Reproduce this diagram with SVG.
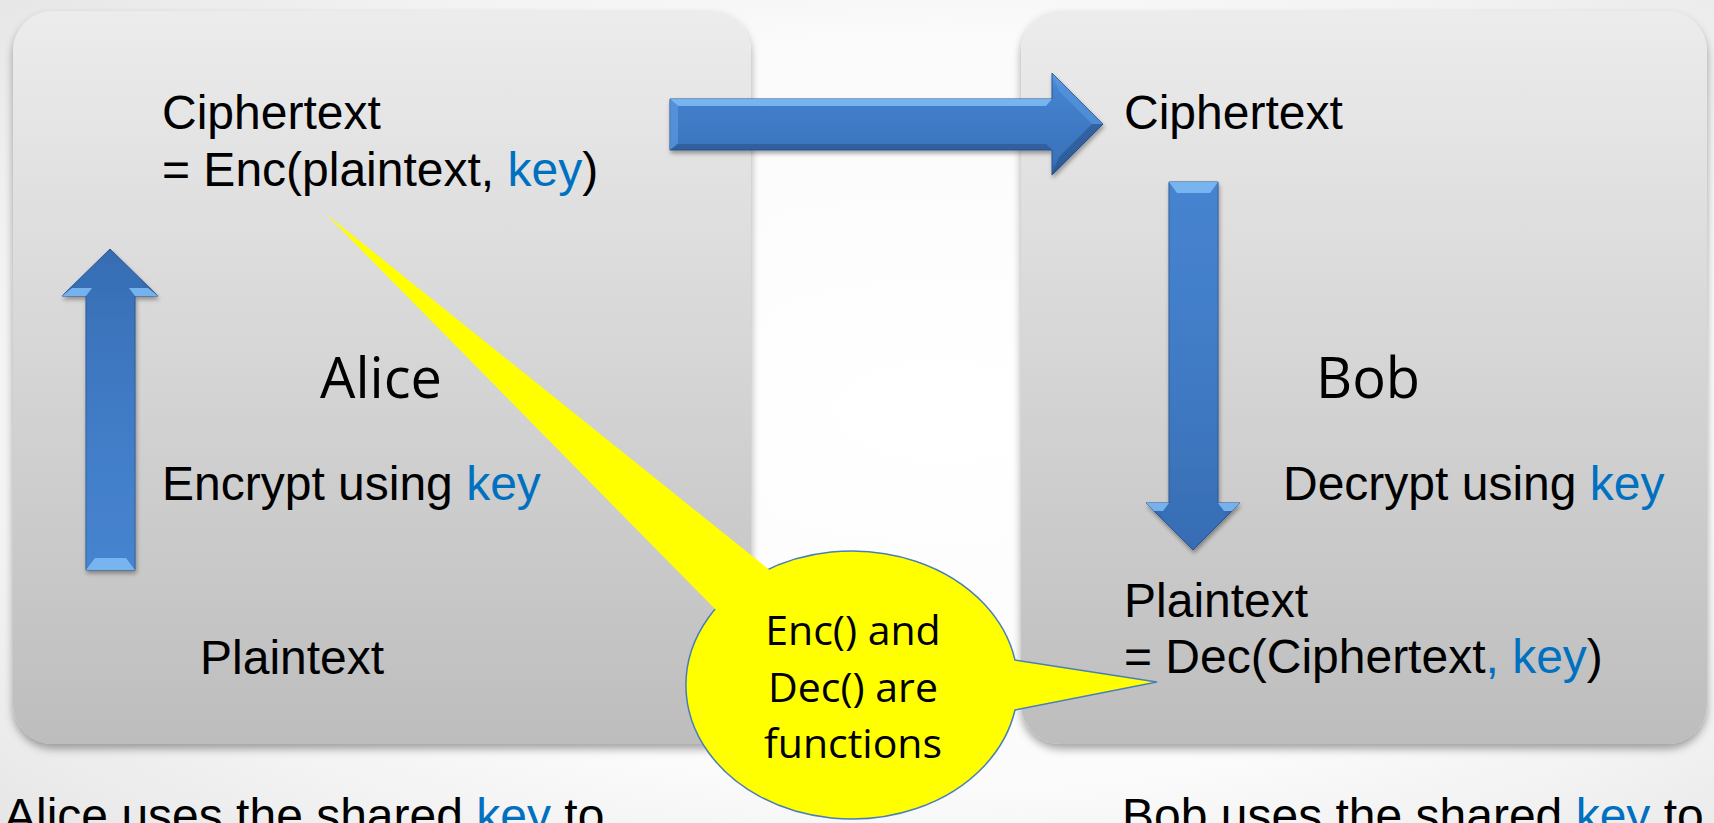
<svg xmlns="http://www.w3.org/2000/svg" width="1714" height="823" viewBox="0 0 1714 823">
  <defs>
    <radialGradient id="bg" cx="0.55" cy="0.5" r="0.75">
      <stop offset="0" stop-color="#ffffff"/>
      <stop offset="0.6" stop-color="#fbfbfb"/>
      <stop offset="1" stop-color="#e6e6e6"/>
    </radialGradient>
    <linearGradient id="panelFill" x1="0" y1="0" x2="0" y2="1">
      <stop offset="0" stop-color="#ececec"/>
      <stop offset="1" stop-color="#bdbdbd"/>
    </linearGradient>
    <linearGradient id="arrowV" x1="0" y1="0" x2="1" y2="0">
      <stop offset="0" stop-color="#2f64a8"/>
      <stop offset="0.2" stop-color="#3f7bc8"/>
      <stop offset="0.8" stop-color="#3f7bc8"/>
      <stop offset="1" stop-color="#2d5f9f"/>
    </linearGradient>
    <linearGradient id="arrowUpShade" x1="0" y1="0" x2="0" y2="1">
      <stop offset="0" stop-color="#2b5a99" stop-opacity="0.45"/>
      <stop offset="1" stop-color="#5a9be6" stop-opacity="0.25"/>
    </linearGradient>
    <linearGradient id="arrowDownShade" x1="0" y1="0" x2="0" y2="1">
      <stop offset="0" stop-color="#5a9be6" stop-opacity="0.25"/>
      <stop offset="1" stop-color="#2b5a99" stop-opacity="0.45"/>
    </linearGradient>
    <linearGradient id="arrowH" x1="0" y1="0" x2="0" y2="1">
      <stop offset="0" stop-color="#5c9be4"/>
      <stop offset="0.15" stop-color="#4483d0"/>
      <stop offset="0.85" stop-color="#3a72bb"/>
      <stop offset="1" stop-color="#2d5e9c"/>
    </linearGradient>
    <filter id="panelShadow" x="-5%" y="-5%" width="110%" height="112%">
      <feDropShadow dx="0" dy="5" stdDeviation="4" flood-color="#000" flood-opacity="0.35"/>
    </filter>
    <filter id="arrowShadow" x="-20%" y="-10%" width="140%" height="125%">
      <feDropShadow dx="1" dy="3" stdDeviation="2" flood-color="#000" flood-opacity="0.35"/>
    </filter>
    <style>
      .panel { fill: url(#panelFill); filter: url(#panelShadow); }
      .t { font-family: "Liberation Sans", Arial, sans-serif; font-size: 48px; fill: #000; }
      .name { font-family: "Open Sans", "Noto Sans", sans-serif; font-size: 56px; fill: #000; }
      .key { fill: #0070c0; }
      .arrow-edge { stroke: #2a5590; stroke-width: 1; stroke-linejoin: miter; }
      .bevel { fill: #7cbaf4; opacity: 0.9; }
      .bevel-dark { fill: #23497e; opacity: 0.5; }
      .bubble { fill: #ffff00; stroke: #4a7ebb; stroke-width: 1.5; }
      .btxt { font-family: "Open Sans", "Noto Sans", sans-serif; font-size: 41px; fill: #000; text-anchor: middle; }
    </style>
  </defs>

  <rect x="0" y="0" width="1714" height="823" fill="url(#bg)"/>

  <g id="alice-panel">
    <rect class="panel" x="13" y="11" width="738" height="733" rx="40" ry="40"/>
    <text class="t" x="162" y="129">Ciphertext</text>
    <text class="t" x="162" y="186">= Enc(plaintext, <tspan class="key">key</tspan>)</text>
    <text class="name" x="320" y="398">Alice</text>
    <text class="t" x="162" y="500">Encrypt using <tspan class="key">key</tspan></text>
    <text class="t" x="200" y="674">Plaintext</text>
  </g>

  <g id="bob-panel">
    <rect class="panel" x="1021" y="11" width="686" height="733" rx="40" ry="40"/>
    <text class="t" x="1124" y="129">Ciphertext</text>
    <text class="name" x="1316" y="398">Bob</text>
    <text class="t" x="1283" y="500">Decrypt using <tspan class="key">key</tspan></text>
    <text class="t" x="1124" y="617">Plaintext</text>
    <text class="t" x="1124" y="673">= Dec(Ciphertext<tspan class="key">, key</tspan>)</text>
  </g>

  <g id="connectors">
    <g id="arrow-encrypt" filter="url(#arrowShadow)">
      <polygon class="arrow-edge" fill="url(#arrowV)" points="110,249 158,296 135,296 135,570 86,570 86,296 62,296"/>
      <polygon fill="url(#arrowUpShade)" points="110,249 158,296 135,296 135,570 86,570 86,296 62,296"/>
      <polygon class="bevel" points="86,570 135,570 126,558 95,558"/>
      <polygon class="bevel" points="62,296 86,296 92,288 72,288"/>
      <polygon class="bevel" points="158,296 135,296 129,288 148,288"/>
    </g>
    <g id="arrow-send" filter="url(#arrowShadow)">
      <polygon class="arrow-edge" fill="url(#arrowH)" points="670,99 1052,99 1052,73 1103,124 1052,175 1052,150 670,150"/>
      <polygon class="bevel" points="670,99 1052,99 1046,106 678,106"/>
      <polygon fill="#5f9fe6" opacity="0.6" points="670,99 678,106 678,143 670,150"/>
      <polygon class="bevel-dark" points="670,150 1052,150 1046,144 678,144"/>
      <polygon fill="#5c9ae2" opacity="0.55" points="1052,73 1103,124 1092,124 1059,91"/>
      <polygon class="bevel-dark" points="1052,175 1103,124 1092,124 1059,157"/>
    </g>
    <g id="arrow-decrypt" filter="url(#arrowShadow)">
      <polygon class="arrow-edge" fill="url(#arrowV)" points="1169,182 1218,182 1218,503 1240,503 1193,550 1146,503 1169,503"/>
      <polygon fill="url(#arrowDownShade)" points="1169,182 1218,182 1218,503 1240,503 1193,550 1146,503 1169,503"/>
      <polygon class="bevel" points="1169,182 1218,182 1210,193 1177,193"/>
      <polygon class="bevel" points="1146,503 1169,503 1163,511 1154,511"/>
      <polygon class="bevel" points="1240,503 1218,503 1224,511 1232,511"/>
    </g>
  </g>

  <g id="callout">
    <path class="bubble" d="M 1015,660 L 1157,682 L 1015,710 A 166 134 0 1 1 1015,660 Z"/>
    <polygon fill="#ffff00" points="326,214 772,572 716,610"/>
    <text class="btxt" x="853" y="645">Enc() and</text>
    <text class="btxt" x="853" y="702">Dec() are</text>
    <text class="btxt" x="853" y="758">functions</text>
  </g>

  <g id="captions">
    <text class="t" x="4" y="832">Alice uses the shared <tspan class="key">key</tspan> to</text>
    <text class="t" x="1122" y="832">Bob uses the shared <tspan class="key">key</tspan> to</text>
  </g>
</svg>
